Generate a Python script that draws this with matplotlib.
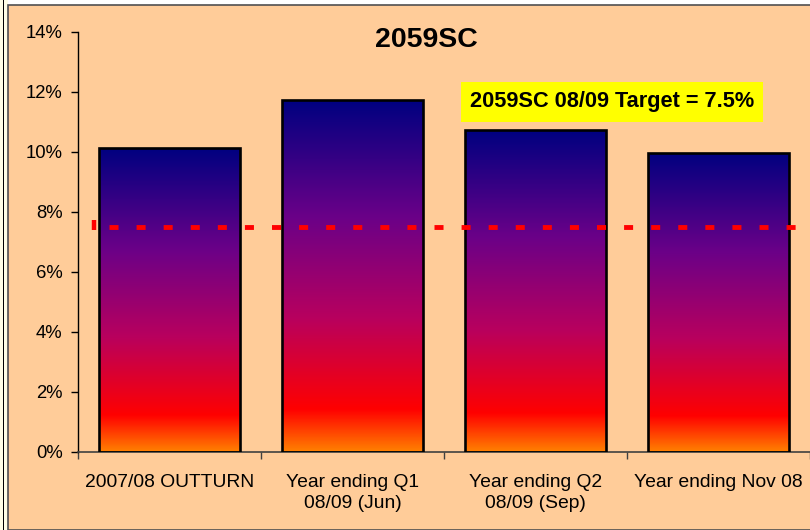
import numpy as np
import matplotlib
matplotlib.use("Agg")
import matplotlib.pyplot as plt
from matplotlib.colors import LinearSegmentedColormap
from matplotlib.patches import Rectangle

plt.rcParams['font.family'] = ['Liberation Sans', 'DejaVu Sans']
plt.rcParams['lines.scale_dashes'] = False

categories = ["2007/08 OUTTURN", "Year ending Q1\n08/09 (Jun)",
              "Year ending Q2\n08/09 (Sep)", "Year ending Nov 08"]
values = [10.13, 11.73, 10.73, 9.97]
target = 7.5
title = "2059SC"
target_label = "2059SC 08/09 Target = 7.5%"
yticks = [0, 2, 4, 6, 8, 10, 12, 14]

peach = "#FFCC99"
fire = LinearSegmentedColormap.from_list(
    "fire", [(0.0, "#000080"), (0.33, "#6A0088"), (0.62, "#B8005E"),
             (0.88, "#FF0000"), (1.0, "#FF8000")])

fig = plt.figure(figsize=(8.1, 5.3), dpi=100, facecolor="white")

# outer chart area + left strip
fig.patches.append(Rectangle((0, 0), 8 / 810, 1, transform=fig.transFigure,
                             facecolor="#FFFFE6", edgecolor="none", zorder=-10))
fig.patches.append(Rectangle((2.5 / 810, 0), 1 / 810, 1, transform=fig.transFigure,
                             facecolor="black", edgecolor="none", zorder=-10))
fig.patches.append(Rectangle((8 / 810, 0), 1, 525 / 530, transform=fig.transFigure,
                             facecolor=peach, edgecolor="#505050", linewidth=1.2, zorder=-10))

ax = fig.add_axes([78 / 810, 78 / 530, 732 / 810, 420 / 530])
ax.patch.set_alpha(0)

x = np.arange(len(categories))
bars = ax.bar(x, values, width=0.775, facecolor="none", edgecolor="black",
              linewidth=1.9, zorder=3)
grad = np.linspace(0, 1, 256).reshape(-1, 1)
for b in bars:
    x0, w, h = b.get_x(), b.get_width(), b.get_height()
    im = ax.imshow(grad, cmap=fire, aspect="auto", extent=(x0, x0 + w, 0, h),
                   origin="upper", zorder=2)
    im.set_clip_path(b)

ax.set_xlim(-0.5, len(categories) - 0.5)
ax.set_ylim(0, 14)

# target line
ax.plot([-0.33, len(categories) - 0.5], [target, target], color="#FF0000",
        linewidth=3.5, linestyle=(0, (6.5, 13)), dash_capstyle="butt",
        solid_capstyle="butt", zorder=4)
ax.plot([-0.415], [target + 0.07], marker="|", markersize=7,
        markeredgewidth=3.2, color="#FF0000", zorder=4)

ax.set_yticks(yticks)
ax.set_yticklabels([f"{t}%" for t in yticks])
ax.set_xticks(x)
ax.set_xticklabels(categories, linespacing=1.3)
ax.set_xticks(np.arange(len(categories) + 1) - 0.5, minor=True)
ax.tick_params(axis="y", direction="out", length=5, width=1, pad=6, labelsize=13.3)
ax.tick_params(axis="x", which="major", length=0, pad=16, labelsize=13.9)
ax.tick_params(axis="x", which="minor", length=5, width=1, color="#404040")

for side in ["top", "right"]:
    ax.spines[side].set_visible(False)
ax.spines["left"].set_color("black")
ax.spines["bottom"].set_color("#404040")
ax.spines["left"].set_linewidth(1)
ax.spines["bottom"].set_linewidth(1.2)

fig.text(426 / 810, 1 - 40 / 530, title, ha="center", va="center",
         fontsize=20.5, fontweight="bold")
fig.text(612 / 810, 1 - 102 / 530, target_label, ha="center", va="center",
         fontsize=15.7, fontweight="bold",
         bbox=dict(boxstyle="square,pad=0.42", facecolor="#FFFF00", edgecolor="none"))

fig.savefig("out.png", dpi=100, facecolor=fig.get_facecolor())
